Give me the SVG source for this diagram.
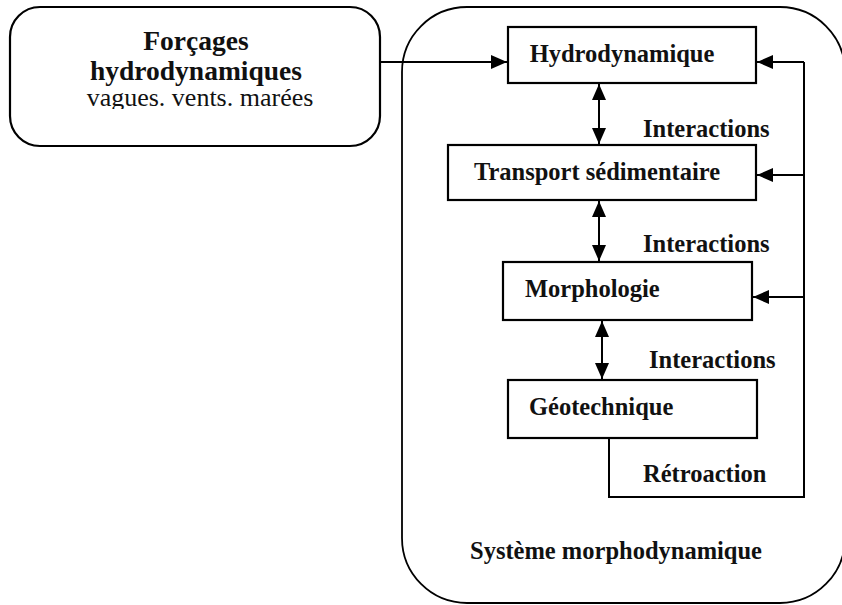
<svg xmlns="http://www.w3.org/2000/svg" width="842" height="605" viewBox="0 0 842 605">
  <style>
    .box { fill: #fff; stroke: #000; stroke-width: 2.2; }
    .frame { fill: none; stroke: #000; stroke-width: 1.8; }
    .line { fill: none; stroke: #000; stroke-width: 2; }
    .lbl { font-family: "Liberation Serif", "Times New Roman", serif; font-weight: bold; font-size: 24.5px; fill: #111; }
    .sub { font-family: "Liberation Serif", "Times New Roman", serif; font-size: 26px; fill: #111; }
  </style>
  <defs>
    <marker id="head" viewBox="0 0 16 14" refX="16" refY="7" markerWidth="16" markerHeight="14" markerUnits="userSpaceOnUse" orient="auto-start-reverse">
      <path d="M0,0 L16,7 L0,14 Z" fill="#000"/>
    </marker>
    <!-- the subtitle line is cut just under its baseline -->
    <clipPath id="subClip">
      <rect x="10" y="80" width="370" height="29"/>
    </clipPath>
  </defs>
  <rect width="842" height="605" fill="#fff"/>

  <!-- system boundary -->
  <g id="systeme">
    <rect class="frame" x="402" y="7" width="443" height="596" rx="65" ry="65"/>
    <text class="lbl" x="470" y="559">Système morphodynamique</text>
  </g>

  <!-- external forcing -->
  <g id="forcages">
    <rect class="box" x="10" y="7" width="370" height="139" rx="30" ry="30"/>
    <text class="lbl" x="196" y="50" text-anchor="middle" style="font-size:27.5px">Forçages</text>
    <text class="lbl" x="196" y="80" text-anchor="middle" style="font-size:27.5px">hydrodynamiques</text>
    <text class="sub" x="200" y="106" text-anchor="middle" clip-path="url(#subClip)">vagues. vents. marées</text>
  </g>

  <g id="hydrodynamique">
    <rect class="box" x="508" y="27" width="248" height="56"/>
    <text class="lbl" x="622" y="62" text-anchor="middle">Hydrodynamique</text>
  </g>

  <g id="transport">
    <rect class="box" x="448" y="145" width="308" height="55"/>
    <text class="lbl" x="597" y="180" text-anchor="middle">Transport sédimentaire</text>
  </g>

  <g id="morphologie">
    <rect class="box" x="503" y="262" width="249" height="58"/>
    <text class="lbl" x="525" y="297">Morphologie</text>
  </g>

  <g id="geotechnique">
    <rect class="box" x="508" y="380" width="249" height="58"/>
    <text class="lbl" x="529" y="415">Géotechnique</text>
  </g>

  <!-- connectors -->
  <g id="connecteurs">
    <line class="line" x1="380" y1="62" x2="507" y2="62" marker-end="url(#head)"/>
    <line class="line" x1="599" y1="84" x2="599" y2="144" marker-start="url(#head)" marker-end="url(#head)"/>
    <line class="line" x1="599" y1="201" x2="599" y2="261" marker-start="url(#head)" marker-end="url(#head)"/>
    <line class="line" x1="602" y1="321" x2="602" y2="379" marker-start="url(#head)" marker-end="url(#head)"/>
    <!-- feedback loop -->
    <polyline class="line" points="609,439 609,497 804,497 804,62"/>
    <line class="line" x1="804" y1="62" x2="757" y2="62" marker-end="url(#head)"/>
    <line class="line" x1="804" y1="175" x2="757" y2="175" marker-end="url(#head)"/>
    <line class="line" x1="804" y1="297" x2="753" y2="297" marker-end="url(#head)"/>
    <text class="lbl" x="643" y="137">Interactions</text>
    <text class="lbl" x="643" y="252">Interactions</text>
    <text class="lbl" x="649" y="368">Interactions</text>
    <text class="lbl" x="643" y="482">Rétroaction</text>
  </g>
</svg>
